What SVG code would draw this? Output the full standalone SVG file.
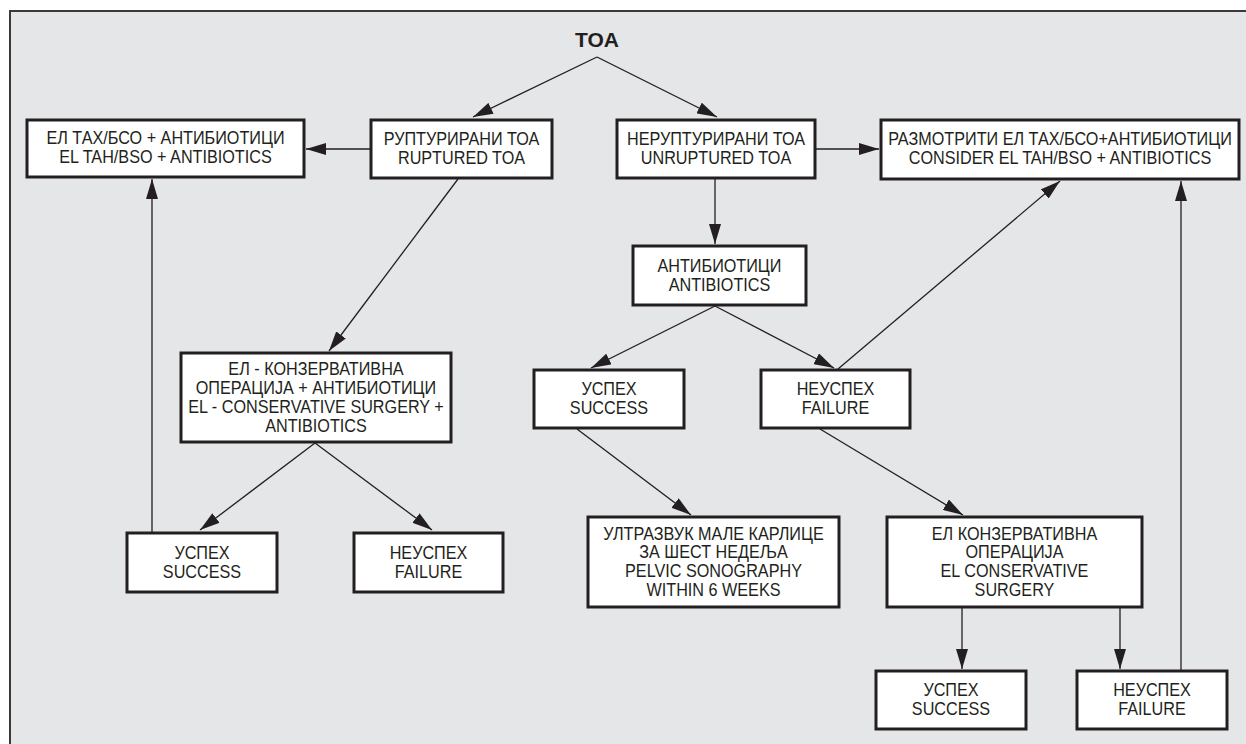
<svg xmlns="http://www.w3.org/2000/svg" width="1246" height="744" viewBox="0 0 1246 744">
<defs>
<style>
.box{fill:#ffffff;stroke:#231f20;stroke-width:3}
.t{font-family:"Liberation Sans",Arial,sans-serif;font-size:18px;fill:#231f20;text-anchor:middle}
.title{font-family:"Liberation Sans",Arial,sans-serif;font-size:21px;font-weight:bold;fill:#231f20;text-anchor:middle}
.c{stroke:#231f20;stroke-width:1.3;fill:none;marker-end:url(#ah)}
</style>
<marker id="ah" markerUnits="userSpaceOnUse" markerWidth="20" markerHeight="12" refX="20" refY="6" orient="auto">
<path d="M0,0 L20,6 L0,12 z" fill="#231f20"/>
</marker>
</defs>
<rect x="0" y="0" width="1246" height="744" fill="#ffffff"/>
<rect x="10" y="11" width="1250" height="750" fill="#e5e6e8" stroke="#3a3a3a" stroke-width="2"/>

<g id="connectors">
<line class="c" x1="597" y1="57" x2="473" y2="117"/>
<line class="c" x1="597" y1="57" x2="717" y2="117"/>
<line class="c" x1="371" y1="149" x2="306" y2="149"/>
<line class="c" x1="815" y1="149" x2="879" y2="149"/>
<line class="c" x1="458" y1="179" x2="329" y2="351"/>
<line class="c" x1="715" y1="179" x2="715" y2="244"/>
<line class="c" x1="715" y1="306" x2="591" y2="368"/>
<line class="c" x1="715" y1="306" x2="834" y2="368"/>
<line class="c" x1="838" y1="369" x2="1060" y2="181"/>
<line class="c" x1="577" y1="429" x2="691" y2="515"/>
<line class="c" x1="820" y1="429" x2="963" y2="515"/>
<line class="c" x1="315" y1="443" x2="200" y2="530"/>
<line class="c" x1="315" y1="443" x2="432" y2="530"/>
<line class="c" x1="152" y1="532" x2="152" y2="179"/>
<line class="c" x1="962" y1="608" x2="962" y2="669"/>
<line class="c" x1="1120" y1="608" x2="1120" y2="669"/>
<line class="c" x1="1181" y1="670" x2="1181" y2="181"/>
</g>

<g id="n-toa"><text class="title" x="597" y="47">TOA</text></g>

<g id="n-eltah">
<rect class="box" x="27" y="120" width="277" height="57"/>
<g transform="scale(0.9 1)">
<text class="t" x="183.89" y="144.5">ЕЛ ТАХ/БСО + АНТИБИОТИЦИ</text>
<text class="t" x="183.89" y="163.5">EL TAH/BSO + ANTIBIOTICS</text>
</g>
</g>

<g id="n-ruptured">
<rect class="box" x="371" y="120" width="181" height="58"/>
<g transform="scale(0.9 1)">
<text class="t" x="512.78" y="145">РУПТУРИРАНИ ТОА</text>
<text class="t" x="512.78" y="164">RUPTURED TOA</text>
</g>
</g>

<g id="n-unruptured">
<rect class="box" x="617" y="120" width="198" height="58"/>
<g transform="scale(0.9 1)">
<text class="t" x="795.56" y="145">НЕРУПТУРИРАНИ ТОА</text>
<text class="t" x="795.56" y="164">UNRUPTURED TOA</text>
</g>
</g>

<g id="n-consider">
<rect class="box" x="881" y="120" width="358" height="59"/>
<g transform="scale(0.9 1)">
<text class="t" x="1177.78" y="145">РАЗМОТРИТИ ЕЛ ТАХ/БСО+АНТИБИОТИЦИ</text>
<text class="t" x="1177.78" y="164">CONSIDER EL TAH/BSO + ANTIBIOTICS</text>
</g>
</g>

<g id="n-antibiotics">
<rect class="box" x="633" y="246" width="173" height="59"/>
<g transform="scale(0.9 1)">
<text class="t" x="799.44" y="272">АНТИБИОТИЦИ</text>
<text class="t" x="799.44" y="291">ANTIBIOTICS</text>
</g>
</g>

<g id="n-success-mid">
<rect class="box" x="534" y="370" width="150" height="58"/>
<g transform="scale(0.9 1)">
<text class="t" x="676.67" y="395.5">УСПЕХ</text>
<text class="t" x="676.67" y="414.5">SUCCESS</text>
</g>
</g>

<g id="n-failure-mid">
<rect class="box" x="761" y="370" width="149" height="58"/>
<g transform="scale(0.9 1)">
<text class="t" x="928.33" y="395.5">НЕУСПЕХ</text>
<text class="t" x="928.33" y="414.5">FAILURE</text>
</g>
</g>

<g id="n-el-cons-left">
<rect class="box" x="181" y="353" width="270" height="89"/>
<g transform="scale(0.9 1)">
<text class="t" x="351.11" y="375">ЕЛ - КОНЗЕРВАТИВНА</text>
<text class="t" x="351.11" y="394">ОПЕРАЦИЈА + АНТИБИОТИЦИ</text>
<text class="t" x="351.11" y="413">EL - CONSERVATIVE SURGERY +</text>
<text class="t" x="351.11" y="432">ANTIBIOTICS</text>
</g>
</g>

<g id="n-success-left">
<rect class="box" x="127" y="533" width="150" height="59"/>
<g transform="scale(0.9 1)">
<text class="t" x="224.44" y="559">УСПЕХ</text>
<text class="t" x="224.44" y="578">SUCCESS</text>
</g>
</g>

<g id="n-failure-left">
<rect class="box" x="354" y="533" width="149" height="59"/>
<g transform="scale(0.9 1)">
<text class="t" x="476.11" y="559">НЕУСПЕХ</text>
<text class="t" x="476.11" y="578">FAILURE</text>
</g>
</g>

<g id="n-sonography">
<rect class="box" x="588" y="517" width="251" height="90"/>
<g transform="scale(0.9 1)">
<text class="t" x="792.78" y="539.5">УЛТРАЗВУК МАЛЕ КАРЛИЦЕ</text>
<text class="t" x="792.78" y="558.5">ЗА ШЕСТ НЕДЕЉА</text>
<text class="t" x="792.78" y="577.5">PELVIC SONOGRAPHY</text>
<text class="t" x="792.78" y="596.5">WITHIN 6 WEEKS</text>
</g>
</g>

<g id="n-el-cons-right">
<rect class="box" x="887" y="517" width="255" height="90"/>
<g transform="scale(0.9 1)">
<text class="t" x="1127.22" y="539.5">ЕЛ КОНЗЕРВАТИВНА</text>
<text class="t" x="1127.22" y="558.5">ОПЕРАЦИЈА</text>
<text class="t" x="1127.22" y="577.5">EL CONSERVATIVE</text>
<text class="t" x="1127.22" y="596.5">SURGERY</text>
</g>
</g>

<g id="n-success-bottom">
<rect class="box" x="876" y="671" width="150" height="58"/>
<g transform="scale(0.9 1)">
<text class="t" x="1056.67" y="696.5">УСПЕХ</text>
<text class="t" x="1056.67" y="715.5">SUCCESS</text>
</g>
</g>

<g id="n-failure-bottom">
<rect class="box" x="1077" y="671" width="150" height="58"/>
<g transform="scale(0.9 1)">
<text class="t" x="1280" y="696.5">НЕУСПЕХ</text>
<text class="t" x="1280" y="715.5">FAILURE</text>
</g>
</g>
</svg>
